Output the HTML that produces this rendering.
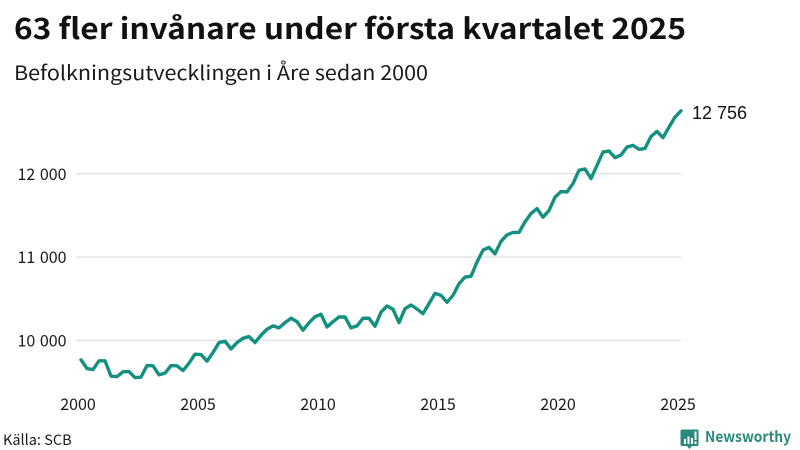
<!DOCTYPE html>
<html lang="sv">
<head>
<meta charset="utf-8">
<title>63 fler invånare under första kvartalet 2025</title>
<style>
html,body{margin:0;padding:0;background:#fff;width:800px;height:450px;overflow:hidden}
svg{display:block}
text{font-family:"Noto Sans CJK JP","Liberation Sans",sans-serif;fill:#1a1a1a}
</style>
</head>
<body>
<svg id="chart" xmlns="http://www.w3.org/2000/svg" width="800" height="450" viewBox="0 0 800 450">
  <rect x="0" y="0" width="800" height="450" fill="#ffffff"/>
  <text x="14" y="39" font-size="29" font-weight="700" textLength="672" lengthAdjust="spacingAndGlyphs" style="fill:#111">63 fler invånare under första kvartalet 2025</text>
  <text x="14" y="80" font-size="20" textLength="414" lengthAdjust="spacingAndGlyphs">Befolkningsutvecklingen i Åre sedan 2000</text>
  <g id="grid"></g>
  <g id="yLabels"></g>
  <g id="xLabels"></g>
  <path id="line" fill="none" stroke="#149080" stroke-width="3.4" stroke-linejoin="round" stroke-linecap="round"></path>
  <text id="endLabel" x="692" y="119" font-size="18" style="font-family:'Liberation Sans',sans-serif;fill:#111"></text>
  <text x="3" y="445" font-size="14.5">Källa: SCB</text>
  <g>
    <path d="M682 429.500h15a1.500 1.500 0 0 1 1.500 1.500v13.500a1.500 1.500 0 0 1-1.500 1.500h-5l-2.500 3-2.500-3h-5a1.500 1.500 0 0 1-1.500-1.500V431a1.500 1.500 0 0 1 1.500-1.500z" fill="#2b8a7e"/>
    <path d="M684 439h2v5h-2zM687.500 436.500h2v7.500h-2zM691 438h2v6h-2zM694.500 431.500h2v8.500h-2zM694.500 441.500h2v2.500h-2z" fill="#ffffff"/>
    <text x="705" y="442" font-size="15" font-weight="700" textLength="86" lengthAdjust="spacingAndGlyphs" style="fill:#2b8a7e">Newsworthy</text>
  </g>
</svg>
<script>
const startYear = 2000;
const populationValues = [
  9766,9662,9650,9755,9755,9571,9566,9623,9626,9554,9559,9698,9695,9587,9607,9698,9695,9638,9727,9835,
  9830,9751,9854,9974,9990,9898,9974,10026,10046,9974,10062,10134,10174,10150,10213,10266,10225,10122,10213,10285,
  10314,10162,10225,10281,10281,10150,10174,10266,10266,10170,10338,10413,10374,10213,10381,10425,10377,10321,10441,10565,
  10541,10457,10541,10680,10760,10769,10940,11084,11116,11040,11188,11267,11296,11296,11423,11523,11583,11479,11559,11719,
  11787,11782,11883,12042,12058,11943,12102,12261,12273,12194,12225,12321,12341,12293,12305,12449,12509,12434,12560,12680,
  12756
];
const yTicks = [10000, 11000, 12000];
const yTickLabels = ["10 000", "11 000", "12 000"];
const xTicks = [2000, 2005, 2010, 2015, 2020, 2025];
const endValueLabel = "12 756";

const NS = "http://www.w3.org/2000/svg";
const xScale = function (quarterIndex) { return 81 + quarterIndex * 6; };
const yScale = function (value) { return 340.4 - (value - 10000) * 0.0833; };

const grid = document.getElementById("grid");
const yLabels = document.getElementById("yLabels");
yTicks.forEach(function (tick, i) {
  const gridline = document.createElementNS(NS, "line");
  
  
  gridline.setAttribute("x1", 76);
  gridline.setAttribute("x2", 681);
  gridline.setAttribute("y1", yScale(tick));
  gridline.setAttribute("y2", yScale(tick));
  gridline.setAttribute("stroke", "#e3e3e8");
  gridline.setAttribute("stroke-width", "1.500");
  grid.appendChild(gridline);

  const label = document.createElementNS(NS, "text");
  
  
  label.setAttribute("x", 66.5);
  label.setAttribute("y", yScale(tick) + 6);
  label.setAttribute("text-anchor", "end");
  label.setAttribute("font-size", "16");
  label.setAttribute("word-spacing", "1");
  label.textContent = yTickLabels[i];
  yLabels.appendChild(label);
});

const xLabels = document.getElementById("xLabels");
xTicks.forEach(function (year) {
  const label = document.createElementNS(NS, "text");
  
  
  label.setAttribute("x", xScale((year - startYear) * 4) - 3);
  label.setAttribute("y", 410);
  label.setAttribute("text-anchor", "middle");
  label.setAttribute("font-size", "16");
  label.textContent = String(year);
  xLabels.appendChild(label);
});

let pathData = "";
populationValues.forEach(function (value, i) {
  pathData += (i === 0 ? "M" : "L") + xScale(i) + " " + yScale(value).toFixed(2);
});
document.getElementById("line").setAttribute("d", pathData);

const endLabel = document.getElementById("endLabel");
endLabel.textContent = endValueLabel;
endLabel.setAttribute("y", yScale(populationValues[populationValues.length - 1]) + 8);
</script>
</body>
</html>
